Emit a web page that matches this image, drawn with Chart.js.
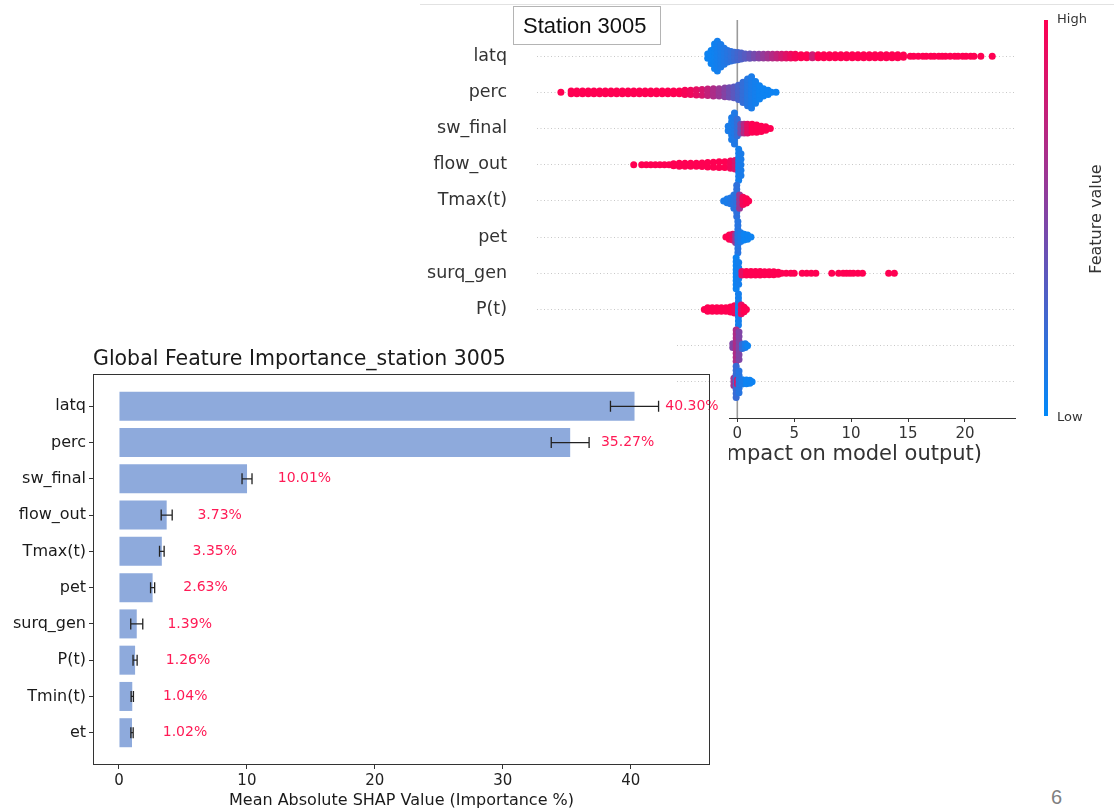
<!DOCTYPE html>
<html>
<head>
<meta charset="utf-8">
<script src="https://cdn.jsdelivr.net/npm/chart.js@4.4.1/dist/chart.umd.min.js"></script>
<style>
  body { margin: 0; width: 1114px; height: 810px; background: #fff; position: relative; overflow: hidden; }
  #shapBox { position: absolute; left: 420px; top: 0; width: 694px; height: 480px; }
  .cover { position: absolute; background: #fff; }
  #barBox { position: absolute; left: 0; top: 335px; width: 730px; height: 475px; }
  #pageNo { position: absolute; left: 1051px; top: 786px; font: 20px "Liberation Sans"; color: #808080; }
</style>
</head>
<body>
<div id="shapBox"><canvas id="shap"></canvas></div>
<div class="cover" style="left:0;top:335px;width:676px;height:475px"></div>
<div class="cover" style="left:0;top:392px;width:729px;height:418px"></div>
<div id="barBox"><canvas id="bar"></canvas></div>
<div id="pageNo">6</div>
<script>
// ---- bar chart data (global importance) ----
const features = ['latq', 'perc', 'sw_final', 'flow_out', 'Tmax(t)', 'pet', 'surq_gen', 'P(t)', 'Tmin(t)', 'et']
const importance = [40.30, 35.27, 10.01, 3.73, 3.35, 2.63, 1.39, 1.26, 1.04, 1.02]
const importanceErr = [1.88, 1.48, 0.39, 0.43, 0.18, 0.16, 0.47, 0.16, 0.09, 0.09]
const barXTicks = [0, 10, 20, 30, 40]

// ---- SHAP beeswarm data: [shap value, vertical jitter(s) in row units, feature value 0..1] ----
// rows listed bottom -> top
const shapRows = ['et', 'Tmin(t)', 'P(t)', 'surq_gen', 'pet', 'Tmax(t)', 'flow_out', 'sw_final', 'perc', 'latq']
const shapXTicks = [-15, -10, -5, 0, 5, 10, 15, 20]
const tallCol = [-0.43, -0.32, -0.21, -0.1, 0, 0.1, 0.21, 0.32, 0.43]

const latqPts = [
  [-2.6, [-0.06, 0.06], 0.05], [-2.3, [-0.2, -0.08, 0.04, 0.16], 0.05],
  [-2.0, [-0.34, -0.23, -0.12, 0, 0.12, 0.23, 0.34], 0.06],
  [-1.75, [-0.41, -0.3, -0.19, -0.08, 0.03, 0.14, 0.25, 0.35, 0.41], 0.08],
  [-1.45, [-0.3, -0.19, -0.08, 0.03, 0.14, 0.25, 0.32], 0.1],
  [-1.15, [-0.22, -0.11, 0, 0.11, 0.22], 0.12], [-0.85, [-0.16, -0.05, 0.06, 0.16], 0.15],
  [-0.55, [-0.13, 0, 0.13], 0.18], [-0.25, [-0.11, 0, 0.11], 0.22], [0.05, [-0.1, 0, 0.1], 0.26],
  [0.35, [-0.08, 0.04, 0.09], 0.3], [0.7, [-0.06, 0.06], 0.34], [1.1, [-0.06, 0.06], 0.4],
  [1.5, [-0.05, 0.05], 0.46], [1.9, [-0.05, 0.05], 0.52], [2.3, [-0.05, 0.05], 0.58],
  [2.7, [-0.05, 0.05], 0.64], [3.1, [-0.05, 0.05], 0.7], [3.5, [-0.05, 0.05], 0.76],
  [3.9, [-0.05, 0.05], 0.82], [4.3, [-0.05, 0.05], 0.88], [4.7, [-0.05, 0.05], 0.93],
  [5.1, [-0.05, 0.05], 0.97], [5.6, [-0.04, 0.04], 1], [6.1, [-0.04, 0.04], 1],
  [6.6, [-0.04, 0.04], 0.8], [7.1, [-0.04, 0.04], 1], [7.6, [-0.04, 0.04], 1],
  [8.1, [-0.04, 0.04], 1], [8.6, [-0.04, 0.04], 1], [9.1, [-0.04, 0.04], 1],
  [9.6, [-0.04, 0.04], 1], [10.1, [-0.04, 0.04], 1], [10.6, [-0.04, 0.04], 1],
  [11.1, [-0.04, 0.04], 1], [11.6, [-0.04, 0.04], 1], [12.1, [-0.04, 0.04], 1],
  [12.6, [-0.04, 0.04], 1], [13.1, [-0.04, 0.04], 1], [13.6, [-0.04, 0.04], 1],
  [14.1, [-0.04, 0.04], 1], [14.6, [-0.03, 0.03], 1],
  [15.2, [0], 1], [15.5, [0], 1], [15.9, [0], 1], [16.3, [0], 1], [16.6, [0], 1],
  [17.0, [0], 1], [17.3, [0], 1], [17.7, [0], 1], [18.0, [0], 1], [18.3, [0], 1], [18.7, [0], 1],
  [19.1, [0], 1], [19.4, [0], 1], [19.8, [0], 1], [20.1, [0], 1], [20.5, [0], 1], [20.8, [0], 1],
  [21.4, [0], 1], [22.4, [0], 1]
]
const percPts = [
  [-15.5, [0], 1],
  [-14.6, [-0.04, 0.04], 1], [-14.1, [-0.04, 0.04], 1], [-13.6, [-0.04, 0.04], 1],
  [-13.1, [-0.04, 0.04], 1], [-12.6, [-0.04, 0.04], 1], [-12.1, [-0.04, 0.04], 1],
  [-11.6, [-0.04, 0.04], 1], [-11.1, [-0.04, 0.04], 1], [-10.6, [-0.04, 0.04], 1],
  [-10.1, [-0.04, 0.04], 1], [-9.6, [-0.04, 0.04], 1], [-9.1, [-0.04, 0.04], 1],
  [-8.6, [-0.04, 0.04], 1], [-8.1, [-0.04, 0.04], 1], [-7.6, [-0.04, 0.04], 1],
  [-7.1, [-0.04, 0.04], 1], [-6.6, [-0.04, 0.04], 1], [-6.1, [-0.04, 0.04], 1],
  [-5.6, [-0.04, 0.04], 1], [-5.1, [-0.04, 0.04], 1],
  [-4.6, [-0.06, 0.06], 0.97], [-4.1, [-0.06, 0.06], 0.94], [-3.6, [-0.07, 0.07], 0.9],
  [-3.1, [-0.08, 0.08], 0.84], [-2.6, [-0.09, 0, 0.09], 0.76], [-2.1, [-0.1, 0, 0.1], 0.68],
  [-1.6, [-0.1, 0, 0.1], 0.6], [-1.1, [-0.12, 0, 0.12], 0.52], [-0.7, [-0.13, 0, 0.13], 0.44],
  [-0.3, [-0.15, -0.05, 0.05, 0.15], 0.36], [0.1, [-0.2, -0.08, 0.04, 0.16, 0.2], 0.28],
  [0.5, [-0.28, -0.17, -0.06, 0.06, 0.17, 0.28], 0.2],
  [0.9, [-0.37, -0.26, -0.15, -0.04, 0.07, 0.18, 0.29, 0.37], 0.14],
  [1.25, tallCol, 0.1], [1.6, [-0.3, -0.19, -0.08, 0.03, 0.14, 0.25, 0.3], 0.08],
  [1.95, [-0.18, -0.06, 0.06, 0.18], 0.06], [2.3, [-0.1, 0, 0.1], 0.05],
  [2.7, [-0.06, 0.06], 0.05], [3.0, [0], 0.05], [3.4, [0], 0.05]
]
const swPts = [
  [-0.8, [-0.06, 0.06], 0.1], [-0.5, [-0.3, -0.18, -0.06, 0.06, 0.18, 0.3], 0.1],
  [-0.25, tallCol, 0.12], [0.0, [-0.2, -0.08, 0.04, 0.16, 0.26], 0.2],
  [0.3, [-0.12, 0, 0.12], 0.45], [0.6, [-0.12, 0, 0.12], 0.7], [0.9, [-0.12, 0, 0.12], 0.9],
  [1.3, [-0.1, 0.02, 0.12], 1], [1.7, [-0.1, 0.02, 0.1], 1], [2.1, [-0.08, 0.06], 1],
  [2.5, [-0.05, 0.05], 1], [2.9, [0], 1]
]
const flowPts = [
  [-9.1, [0], 1], [-8.4, [0], 1], [-8.0, [0], 1], [-7.6, [0], 1], [-7.2, [0], 1],
  [-6.8, [0], 1], [-6.4, [0], 1], [-6.0, [0], 1], [-5.6, [-0.03, 0.03], 1],
  [-5.1, [-0.04, 0.04], 1], [-4.6, [-0.04, 0.04], 1], [-4.1, [-0.04, 0.04], 1],
  [-3.6, [-0.04, 0.04], 1], [-3.1, [-0.05, 0.05], 1], [-2.6, [-0.06, 0.06], 1],
  [-2.1, [-0.07, 0.07], 1], [-1.6, [-0.08, 0.08], 1], [-1.1, [-0.08, 0.08], 1],
  [-0.6, [-0.1, 0, 0.1], 0.95], [-0.2, [-0.12, 0, 0.12], 0.85],
  [0.12, tallCol, 0.08], [0.32, [-0.3, -0.15, 0, 0.15, 0.3], 0.1]
]
const tmaxPts = [
  [-1.2, [0], 0.1], [-0.9, [-0.05, 0.05], 0.1], [-0.6, [-0.08, 0.08], 0.12],
  [-0.3, [-0.2, -0.08, 0.04, 0.16], 0.15], [-0.05, tallCol, 0.18],
  [0.2, [-0.2, -0.08, 0.04, 0.16], 0.6], [0.5, [-0.1, 0.02, 0.1], 0.95],
  [0.8, [-0.06, 0.06], 1], [1.0, [0], 1]
]
const petPts = [
  [-1.0, [0], 1], [-0.7, [-0.06, 0.06], 1], [-0.4, [-0.08, 0.08], 0.9],
  [-0.15, [-0.15, -0.04, 0.07], 0.6], [0.05, tallCol, 0.15], [0.3, [-0.12, 0, 0.12], 0.1],
  [0.6, [-0.08, 0.08], 0.05], [0.9, [-0.06, 0.06], 0.05], [1.2, [0], 0.05]
]
const surqPts = [
  [-0.1, tallCol, 0.05], [0.12, [-0.3, -0.15, 0, 0.15, 0.3], 0.08],
  [0.4, [-0.05, 0.05], 0.9], [0.8, [-0.05, 0.05], 1], [1.2, [-0.05, 0.05], 1],
  [1.6, [-0.05, 0.05], 1], [2.0, [-0.05, 0.05], 1], [2.4, [-0.04, 0.04], 1],
  [2.8, [-0.04, 0.04], 1], [3.2, [-0.04, 0.04], 1], [3.6, [-0.03, 0.03], 1], [3.9, [0], 1],
  [4.3, [0], 1], [4.7, [0], 1], [5.0, [0], 1],
  [5.7, [0], 1], [6.1, [0], 1], [6.5, [0], 1], [6.9, [0], 1],
  [8.3, [0], 1], [8.9, [0], 1], [9.3, [0], 1], [9.6, [0], 1], [9.9, [0], 1],
  [10.2, [0], 1], [10.6, [0], 1], [11.0, [0], 1], [13.3, [0], 1], [13.8, [0], 1]
]
const pPts = [
  [-2.9, [0], 1], [-2.6, [-0.05, 0.05], 1], [-2.2, [-0.05, 0.05], 1], [-1.8, [-0.05, 0.05], 1],
  [-1.4, [-0.05, 0.05], 1], [-1.0, [-0.05, 0.05], 1], [-0.6, [-0.07, 0.07], 1],
  [-0.25, [-0.1, 0, 0.1], 0.95], [0.1, tallCol, 0.08], [0.35, [-0.12, 0, 0.12], 0.9],
  [0.6, [-0.06, 0.06], 1], [0.8, [0], 1]
]
const tminPts = [
  [-0.4, [-0.05, 0.05], 0.5], [-0.1, tallCol, 0.68],
  [0.15, [-0.38, -0.25, -0.12, 0, 0.12, 0.25, 0.38], 0.5], [0.45, [-0.08, 0.04], 0.2],
  [0.7, [-0.05, 0.05], 0.1], [0.9, [0], 0.05]
]
const etPts = [
  [-0.3, [-0.1, 0, 0.1], 0.6], [-0.1, tallCol, 0.22], [0.0, [-0.05, 0.05], 0.85],
  [0.15, [-0.3, -0.18, -0.06, 0.06, 0.18, 0.3], 0.15], [0.45, [-0.06, 0.06], 0.1],
  [0.8, [-0.05, 0.05], 0.05], [1.1, [-0.04, 0.04], 0.05], [1.3, [0], 0.05]
]
const shapPoints = [etPts, tminPts, pPts, surqPts, petPts, tmaxPts, flowPts, swPts, percPts, latqPts]

Chart.defaults.font.family = '"DejaVu Sans"'
Chart.defaults.animation = false

function featureColor(v) {
  const lo = [0, 138, 250], hi = [255, 0, 82]
  const c = lo.map((l, i) => Math.round(l + (hi[i] - l) * v))
  return `rgb(${c.join(',')})`
}

function expandRow(pts, row) {
  const out = []
  for (const [x, dys, v] of pts) {
    for (const dy of dys) out.push({ x, y: row + dy, v })
  }
  return out
}

// ---------------- SHAP summary chart ----------------
const shapDatasets = shapPoints.map((pts, row) => {
  const data = expandRow(pts, row)
  return {
    type: 'scatter',
    data,
    pointBackgroundColor: data.map(p => featureColor(p.v)),
    pointBorderWidth: 0,
    pointRadius: 3.5,
    order: 0
  }
})
shapDatasets.push({
  type: 'line',
  data: [{ x: 0, y: -1 }, { x: 0, y: shapRows.length }],
  borderColor: '#9a9a9a',
  borderWidth: 1.6,
  pointRadius: 0,
  order: 5
})

const shapDecor = {
  id: 'shapDecor',
  afterDraw(chart) {
    const { ctx, chartArea, scales: { x } } = chart
    ctx.save()
    ctx.strokeStyle = '#e2e2e2'
    ctx.lineWidth = 1
    ctx.beginPath(); ctx.moveTo(0, 4.5); ctx.lineTo(chart.width, 4.5); ctx.stroke()

    // "Station 3005" box
    ctx.fillStyle = '#fff'
    ctx.fillRect(93, 6, 147, 38)
    ctx.strokeStyle = '#b4b4b4'
    ctx.strokeRect(93.5, 6.5, 147, 38)
    ctx.fillStyle = '#111'
    ctx.font = '22px "Liberation Sans"'
    ctx.textBaseline = 'alphabetic'
    ctx.fillText('Station 3005', 103, 33)

    // x axis label (only its right part shows past the bar panel)
    ctx.fillStyle = '#333'
    ctx.font = '21px "DejaVu Sans"'
    ctx.textAlign = 'right'
    ctx.textBaseline = 'middle'
    ctx.fillText('SHAP value (impact on model output)', x.getPixelForValue(21.5), chartArea.bottom + 37)
    ctx.textAlign = 'left'

    // colour bar
    const cbX = chartArea.right + 29
    const grad = ctx.createLinearGradient(0, chartArea.top, 0, chartArea.bottom)
    grad.addColorStop(0, featureColor(1))
    grad.addColorStop(0.5, featureColor(0.5))
    grad.addColorStop(1, featureColor(0))
    ctx.fillStyle = grad
    ctx.fillRect(cbX, chartArea.top, 4, chartArea.height - 2)
    ctx.fillStyle = '#333'
    ctx.font = '13px "DejaVu Sans"'
    ctx.fillText('High', cbX + 13, chartArea.top)
    ctx.fillText('Low', cbX + 13, chartArea.bottom)
    ctx.font = '16px "DejaVu Sans"'
    ctx.translate(cbX + 53, (chartArea.top + chartArea.bottom) / 2)
    ctx.rotate(-Math.PI / 2)
    ctx.textAlign = 'center'
    ctx.fillText('Feature value', 0, 0)
    ctx.restore()
  }
}

new Chart(document.getElementById('shap'), {
  data: { datasets: shapDatasets },
  options: {
    responsive: true,
    maintainAspectRatio: false,
    events: [],
    layout: { padding: { top: 20, right: 99, left: 0, bottom: 0 } },
    plugins: { legend: { display: false }, tooltip: { enabled: false } },
    scales: {
      x: {
        type: 'linear',
        min: -17.6,
        max: 24.4,
        afterBuildTicks: s => { s.ticks = shapXTicks.map(v => ({ value: v })) },
        afterFit: s => { s.height = 62; s.paddingLeft = 0; s.paddingRight = 0 },
        grid: { display: true, drawOnChartArea: false, drawTicks: true, tickLength: 4, color: '#333' },
        border: { display: true, color: '#333', width: 1 },
        ticks: { color: '#333', font: { size: 15 }, padding: 3, maxRotation: 0 }
      },
      y: {
        type: 'linear',
        min: -1,
        max: shapRows.length,
        afterBuildTicks: s => { s.ticks = shapRows.map((_, i) => ({ value: i })) },
        afterFit: s => { s.width = 117; s.paddingTop = 0; s.paddingBottom = 0 },
        grid: { color: '#c8c8c8', lineWidth: 1, drawTicks: false },
        border: { display: false, dash: [1, 2.5] },
        ticks: { callback: v => shapRows[v], color: '#333', font: { size: 17.5 }, padding: 30 }
      }
    }
  },
  plugins: [shapDecor]
})

// ---------------- Global importance bar chart ----------------
const barTitle = 'Global Feature Importance_station 3005'

const barDecor = {
  id: 'barDecor',
  afterDatasetsDraw(chart) {
    const { ctx, chartArea, scales: { x, y } } = chart
    ctx.save()
    ctx.strokeStyle = '#222'
    ctx.lineWidth = 1.3
    importance.forEach((v, i) => {
      const yy = y.getPixelForValue(i)
      const x0 = x.getPixelForValue(v - importanceErr[i])
      const x1 = x.getPixelForValue(v + importanceErr[i])
      ctx.beginPath()
      ctx.moveTo(x0, yy); ctx.lineTo(x1, yy)
      ctx.moveTo(x0, yy - 5.5); ctx.lineTo(x0, yy + 5.5)
      ctx.moveTo(x1, yy - 5.5); ctx.lineTo(x1, yy + 5.5)
      ctx.stroke()
    })
    ctx.fillStyle = '#ff1a55'
    ctx.font = '14px "DejaVu Sans"'
    ctx.textBaseline = 'middle'
    ctx.textAlign = 'left'
    importance.forEach((v, i) => {
      ctx.fillText(v.toFixed(2) + '%', x.getPixelForValue(v + 2.4), y.getPixelForValue(i))
    })
    ctx.strokeStyle = '#333'
    ctx.lineWidth = 1
    ctx.strokeRect(chartArea.left + 0.5, chartArea.top + 0.5, chartArea.width - 1, chartArea.height - 1)
    ctx.fillStyle = '#1a1a1a'
    ctx.font = '20.5px "DejaVu Sans"'
    ctx.textBaseline = 'alphabetic'
    ctx.fillText(barTitle, chartArea.left, chartArea.top - 9)
    ctx.restore()
  }
}

new Chart(document.getElementById('bar'), {
  type: 'bar',
  data: {
    datasets: [{
      data: importance.map((v, i) => ({ x: v, y: i })),
      backgroundColor: '#8eaadc',
      borderWidth: 0,
      barPercentage: 0.8,
      categoryPercentage: 1
    }]
  },
  options: {
    indexAxis: 'y',
    responsive: true,
    maintainAspectRatio: false,
    events: [],
    layout: { padding: { top: 39, right: 20, left: 0, bottom: 0 } },
    plugins: { legend: { display: false }, tooltip: { enabled: false } },
    scales: {
      x: {
        type: 'linear',
        min: -2.03,
        max: 46.2,
        afterBuildTicks: s => { s.ticks = barXTicks.map(v => ({ value: v })) },
        afterFit: s => { s.height = 45; s.paddingLeft = 0; s.paddingRight = 0 },
        grid: { display: true, drawOnChartArea: false, drawTicks: true, tickLength: 4, color: '#333' },
        border: { display: false },
        ticks: { color: '#222', font: { size: 15 }, padding: 3, maxRotation: 0 },
        title: {
          display: true,
          text: 'Mean Absolute SHAP Value (Importance %)',
          color: '#1a1a1a',
          font: { size: 16 },
          padding: { top: 0, bottom: 0 }
        }
      },
      y: {
        type: 'linear',
        reverse: true,
        offset: false,
        min: -0.89,
        max: features.length - 0.11,
        afterBuildTicks: s => { s.ticks = features.map((_, i) => ({ value: i })) },
        afterFit: s => { s.width = 93; s.paddingTop = 0; s.paddingBottom = 0 },
        grid: { display: true, offset: false, drawOnChartArea: false, drawTicks: true, tickLength: 4, color: '#333' },
        border: { display: false },
        ticks: { callback: v => features[v], color: '#1a1a1a', font: { size: 16 }, padding: 3 }
      }
    }
  },
  plugins: [barDecor]
})
</script>
</body>
</html>
